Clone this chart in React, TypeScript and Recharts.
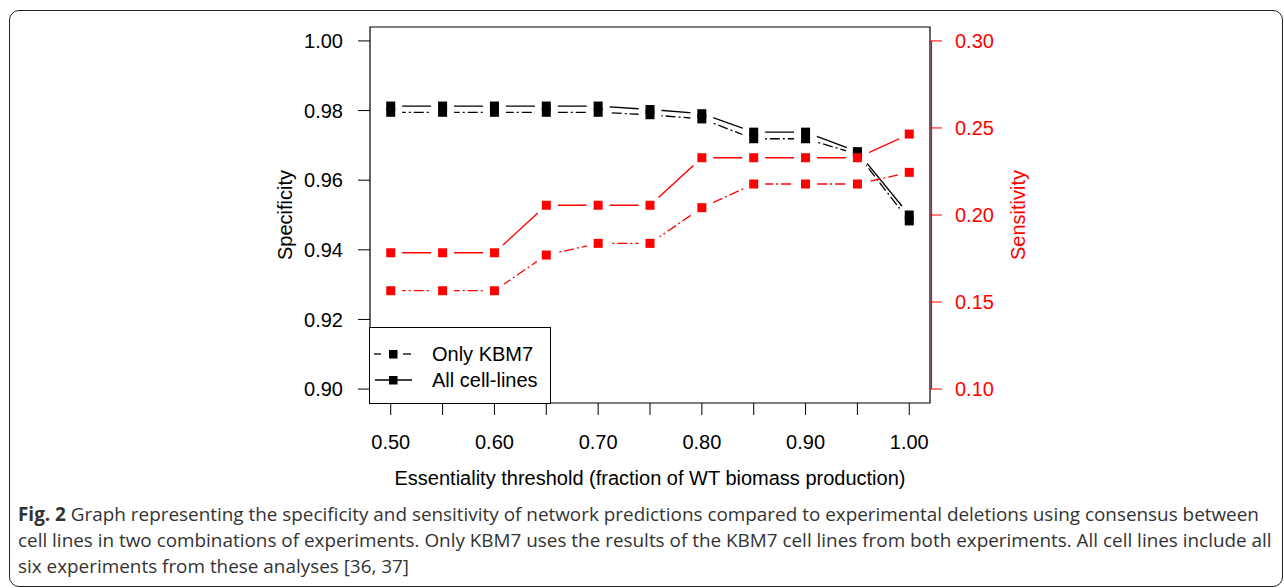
import {
  ComposedChart,
  Line,
  XAxis,
  YAxis,
  ReferenceArea,
  ReferenceLine,
  Legend,
} from 'recharts'

// Valores
const thresholds = [0.5, 0.55, 0.6, 0.65, 0.7, 0.75, 0.8, 0.85, 0.9, 0.95, 1.0]
const specAll = [0.9813, 0.9813, 0.9813, 0.9813, 0.9813, 0.9803, 0.9791, 0.9738, 0.9738, 0.9682, 0.95]
const specKbm7 = [0.9795, 0.9795, 0.9795, 0.9795, 0.9795, 0.9788, 0.9776, 0.9719, 0.9719, 0.9675, 0.9483]
const sensAll = [0.1783, 0.1783, 0.1783, 0.2056, 0.2056, 0.2056, 0.2329, 0.2329, 0.2329, 0.2329, 0.2465]
const sensKbm7 = [0.1565, 0.1565, 0.1565, 0.177, 0.1837, 0.1837, 0.2042, 0.2178, 0.2178, 0.2178, 0.2245]

const xTicks = [0.5, 0.55, 0.6, 0.65, 0.7, 0.75, 0.8, 0.85, 0.9, 0.95, 1.0]
const specTicks = [0.9, 0.92, 0.94, 0.96, 0.98, 1.0]
const sensTicks = [0.1, 0.15, 0.2, 0.25, 0.3]
const legendNames = ['Only KBM7', 'All cell-lines']

const chartData = thresholds.map((x, i) => ({
  x,
  specAll: specAll[i],
  specKbm7: specKbm7[i],
  sensAll: sensAll[i],
  sensKbm7: sensKbm7[i],
}))

const RED = '#ff0000'
const DASH = '2 3 10 3'
const FONT = '"Liberation Sans", Arial, Helvetica, sans-serif'

const series = [
  { key: 'specAll', axis: 'left', color: '#000', dash: undefined },
  { key: 'specKbm7', axis: 'left', color: '#000', dash: DASH },
  { key: 'sensAll', axis: 'right', color: RED, dash: undefined },
  { key: 'sensKbm7', axis: 'right', color: RED, dash: DASH },
]

// tipo "b" de R: hueco blanco alrededor de cada punto
const haloDot = (props: any) => {
  const { cx, cy, index } = props
  if (cx == null || cy == null) return <g key={index} />
  return <circle key={index} cx={cx} cy={cy} r={11.5} fill="#fff" />
}

const squareDot = (color: string) => (props: any) => {
  const { cx, cy, index } = props
  if (cx == null || cy == null) return <g key={index} />
  return <rect key={index} x={cx - 4.5} y={cy - 4.5} width={9} height={9} fill={color} />
}

function LegendBox() {
  return (
    <div
      style={{
        boxSizing: 'border-box',
        width: 182,
        height: 77,
        border: '1px solid #000',
        background: '#fff',
        fontFamily: FONT,
        fontSize: 20,
        color: '#000',
        position: 'relative',
      }}
    >
      {legendNames.map((name, i) => (
        <div
          key={name}
          style={{ position: 'absolute', left: 0, top: 14 + i * 26, height: 24, display: 'flex', alignItems: 'center' }}
        >
          <svg width={60} height={24} style={{ display: 'block' }}>
            {i === 0 ? (
              <>
                <line x1={4} y1={12} x2={11} y2={12} stroke="#000" strokeWidth={1.3} />
                <line x1={33} y1={12} x2={41} y2={12} stroke="#000" strokeWidth={1.3} />
              </>
            ) : (
              <line x1={5} y1={12} x2={42} y2={12} stroke="#000" strokeWidth={1.3} />
            )}
            <rect x={19} y={8} width={8.5} height={8.5} fill="#000" />
          </svg>
          <span style={{ marginLeft: 2, lineHeight: '24px' }}>{name}</span>
        </div>
      ))}
    </div>
  )
}

export default function App() {
  return (
    <div
      style={{
        position: 'fixed',
        left: 0,
        top: 0,
        width: 1284,
        height: 588,
        overflow: 'hidden',
        background: '#fff',
      }}
    >
      <div
        style={{
          position: 'absolute',
          left: 9,
          top: 10,
          width: 1274,
          height: 577,
          boxSizing: 'border-box',
          border: '1.5px solid #222',
          borderRadius: 10,
        }}
      />
      <div style={{ position: 'absolute', left: 0, top: 0 }}>
        <ComposedChart
          width={1284}
          height={500}
          data={chartData}
          margin={{ top: 27, right: 254, left: 270, bottom: 37 }}
        >
          <XAxis
            type="number"
            dataKey="x"
            domain={[0.48, 1.02]}
            ticks={xTicks}
            interval={0}
            height={60}
            axisLine={false}
            tickLine={{ stroke: '#000' }}
            tickSize={12}
            tickMargin={20}
            tick={{ fill: '#000', fontSize: 20, fontFamily: FONT }}
            tickFormatter={(v: number, i: number) => (i % 2 === 0 ? v.toFixed(2) : '')}
          />
          <YAxis
            yAxisId="left"
            type="number"
            domain={[0.896, 1.004]}
            ticks={specTicks}
            interval={0}
            width={100}
            axisLine={false}
            tickLine={{ stroke: '#000' }}
            tickSize={12}
            tickMargin={15}
            tick={{ fill: '#000', fontSize: 20, fontFamily: FONT }}
            tickFormatter={(v: number) => v.toFixed(2)}
          />
          <YAxis
            yAxisId="right"
            orientation="right"
            type="number"
            domain={[0.092, 0.308]}
            ticks={sensTicks}
            interval={0}
            width={100}
            axisLine={false}
            tickLine={{ stroke: RED }}
            tickSize={12}
            tickMargin={13}
            tick={{ fill: RED, fontSize: 20, fontFamily: FONT }}
            tickFormatter={(v: number) => v.toFixed(2)}
          />
          <ReferenceArea
            yAxisId="left"
            x1={0.48}
            x2={1.02}
            y1={0.896}
            y2={1.004}
            fill="none"
            fillOpacity={0}
            stroke="#000"
            strokeWidth={1.2}
            ifOverflow="visible"
          />
          <ReferenceLine
            yAxisId="right"
            segment={[
              { x: 1.02, y: 0.1 },
              { x: 1.02, y: 0.3 },
            ]}
            ifOverflow="visible"
            shape={(p: any) => (
              <line x1={p.x1 + 1.5} y1={p.y1} x2={p.x2 + 1.5} y2={p.y2} stroke={RED} strokeWidth={1.2} />
            )}
          />
          {series.map(s => (
            <Line
              key={`line-${s.key}`}
              yAxisId={s.axis}
              dataKey={s.key}
              type="linear"
              stroke={s.color}
              strokeWidth={1.3}
              strokeDasharray={s.dash}
              dot={false}
              activeDot={false}
              legendType="none"
              isAnimationActive={false}
            />
          ))}
          {series.map(s => (
            <Line
              key={`halo-${s.key}`}
              yAxisId={s.axis}
              dataKey={s.key}
              stroke="none"
              dot={haloDot}
              activeDot={false}
              legendType="none"
              isAnimationActive={false}
            />
          ))}
          {series.map(s => (
            <Line
              key={`mark-${s.key}`}
              yAxisId={s.axis}
              dataKey={s.key}
              stroke="none"
              dot={squareDot(s.color)}
              activeDot={false}
              legendType="none"
              isAnimationActive={false}
            />
          ))}
          <Legend
            layout="vertical"
            align="center"
            verticalAlign="middle"
            wrapperStyle={{ left: 369, top: 327, width: 182, height: 77 }}
            content={() => <LegendBox />}
          />
        </ComposedChart>
      </div>
      <div
        style={{
          position: 'absolute',
          left: 285 - 100,
          top: 215 - 12,
          width: 200,
          height: 24,
          lineHeight: '24px',
          textAlign: 'center',
          transform: 'rotate(-90deg)',
          fontFamily: FONT,
          fontSize: 20,
          color: '#000',
        }}
      >
        Specificity
      </div>
      <div
        style={{
          position: 'absolute',
          left: 1018 - 100,
          top: 215 - 12,
          width: 200,
          height: 24,
          lineHeight: '24px',
          textAlign: 'center',
          transform: 'rotate(-90deg)',
          fontFamily: FONT,
          fontSize: 20,
          color: RED,
        }}
      >
        Sensitivity
      </div>
      <div
        style={{
          position: 'absolute',
          left: 250,
          top: 466,
          width: 800,
          lineHeight: '24px',
          textAlign: 'center',
          fontFamily: FONT,
          fontSize: 20,
          color: '#000',
        }}
      >
        Essentiality threshold (fraction of WT biomass production)
      </div>
      <div
        style={{
          position: 'absolute',
          left: 18,
          top: 501,
          width: 1262,
          fontFamily: '"Open Sans", sans-serif',
          fontSize: 18.9,
          lineHeight: '26px',
          color: '#333',
          whiteSpace: 'nowrap',
        }}
      >
        <b>Fig. 2</b> Graph representing the specificity and sensitivity of network predictions compared to experimental deletions using consensus between
        <br />
        cell lines in two combinations of experiments. Only KBM7 uses the results of the KBM7 cell lines from both experiments. All cell lines include all
        <br />
        six experiments from these analyses [36, 37]
      </div>
    </div>
  )
}
